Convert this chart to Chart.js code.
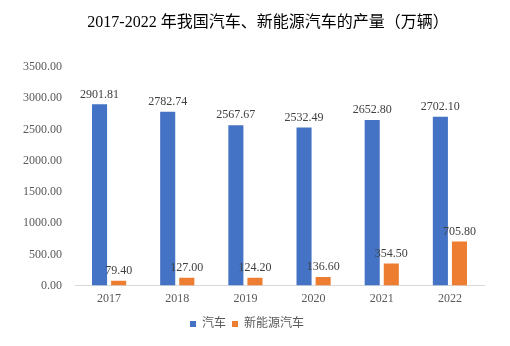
<!DOCTYPE html>
<html>
<head>
<meta charset="utf-8">
<script src="https://cdn.jsdelivr.net/npm/chart.js@4/dist/chart.umd.min.js"></script>
<style>
  body { margin: 0; background: #fff; }
  #wrap { width: 510px; height: 346px; }
</style>
</head>
<body>
<div id="wrap"><canvas id="myChart" width="510" height="346"></canvas></div>
<script>
'use strict';
let years = ['2017', '2018', '2019', '2020', '2021', '2022'];
let carOutput = [2901.81, 2782.74, 2567.67, 2532.49, 2652.80, 2702.10];
let nevOutput = [79.40, 127.00, 124.20, 136.60, 354.50, 705.80];
let seriesNames = ['汽车', '新能源汽车'];
let yTicks = [0, 500, 1000, 1500, 2000, 2500, 3000, 3500];
let chartTitle = '2017-2022 年我国汽车、新能源汽车的产量（万辆）';

let numFont = '"Liberation Serif", "Times New Roman", serif';
let cjkFont = '"Liberation Serif", "Noto Sans CJK SC", serif';

// value labels above each bar
let valueLabels = {
    id: 'valueLabels',
    afterDatasetsDraw(chart) {
        let ctx = chart.ctx;
        ctx.save();
        ctx.font = '12px ' + numFont;
        ctx.fillStyle = '#404040';
        ctx.textAlign = 'center';
        ctx.textBaseline = 'bottom';
        chart.data.datasets.forEach(function (ds, i) {
            let meta = chart.getDatasetMeta(i);
            meta.data.forEach(function (bar, j) {
                ctx.fillText(ds.data[j].toFixed(2), bar.x, bar.y - 4);
            });
        });
        ctx.restore();
    }
};

// title, drawn a bit right of centre like the original
let titleText = {
    id: 'titleText',
    afterDraw(chart) {
        let ctx = chart.ctx;
        ctx.save();
        ctx.font = '16px ' + cjkFont;
        ctx.fillStyle = '#000';
        ctx.textAlign = 'center';
        ctx.textBaseline = 'middle';
        ctx.fillText(chartTitle, 268, 23);
        ctx.restore();
    }
};

let ctx = document.getElementById('myChart').getContext('2d');
let myChart = new Chart(ctx, {
    type: 'bar',
    data: {
        labels: years,
        datasets: [{
            label: seriesNames[0],
            data: carOutput,
            backgroundColor: '#4472C4',
            categoryPercentage: 0.56,
            barPercentage: 0.79
        },
        {
            label: seriesNames[1],
            data: nevOutput,
            backgroundColor: '#ED7D31',
            categoryPercentage: 0.56,
            barPercentage: 0.79
        }]
    },
    options: {
        responsive: false,
        animation: false,
        layout: { padding: { left: 10, right: 26, top: 67, bottom: 6 } },
        plugins: {
            title: { display: false },
            legend: {
                position: 'bottom',
                labels: {
                    boxWidth: 6,
                    boxHeight: 6,
                    padding: 6,
                    color: '#595959',
                    font: { family: cjkFont, size: 12 }
                }
            },
            tooltip: { enabled: false }
        },
        scales: {
            x: {
                grid: { display: false, drawTicks: false },
                border: { color: '#d9d9d9' },
                ticks: { color: '#595959', padding: 6, font: { family: numFont, size: 12 } }
            },
            y: {
                min: 0,
                max: 3500,
                afterBuildTicks: function (axis) {
                    axis.ticks = yTicks.map(function (v) { return { value: v }; });
                },
                grid: { display: false, drawTicks: false },
                border: { display: false },
                ticks: {
                    color: '#595959',
                    padding: 13,
                    font: { family: numFont, size: 12 },
                    callback: function (v) { return Number(v).toFixed(2); }
                }
            }
        }
    },
    plugins: [valueLabels, titleText]
});
</script>
</body>
</html>
